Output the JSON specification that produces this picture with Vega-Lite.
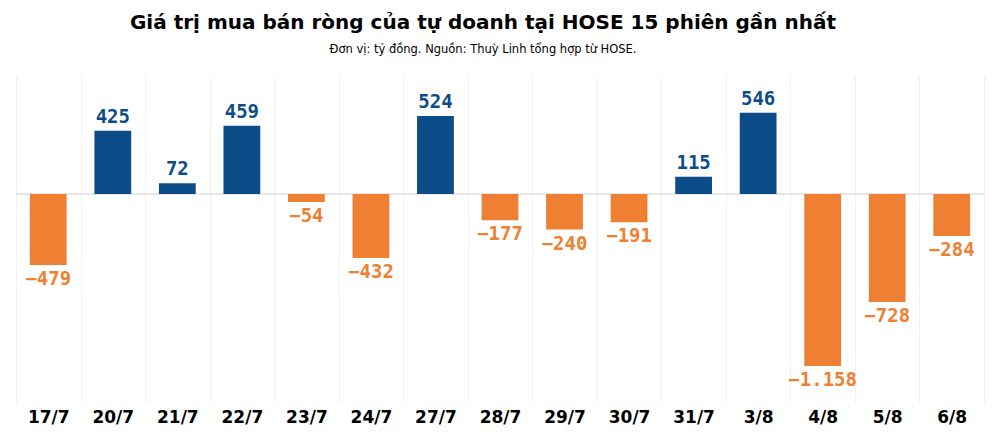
{
  "$schema": "https://vega.github.io/schema/vega-lite/v6.json",
  "autosize": {"type": "none"},
  "width": 968,
  "height": 327,
  "padding": {"left": 16, "top": 75, "right": 16, "bottom": 42},
  "background": "white",
  "title": {
    "text": "Giá trị mua bán ròng của tự doanh tại HOSE 15 phiên gần nhất",
    "subtitle": "Đơn vị: tỷ đồng. Nguồn: Thuỳ Linh tổng hợp từ HOSE.",
    "anchor": "middle",
    "dx": -17,
    "font": "DejaVu Sans",
    "fontSize": 20,
    "fontWeight": "bold",
    "color": "#000000",
    "subtitleFont": "DejaVu Sans",
    "subtitleFontSize": 11.5,
    "subtitleColor": "#000000",
    "subtitlePadding": 11,
    "offset": 20
  },
  "data": {
    "values": [
      {"date": "17/7", "value": -479},
      {"date": "20/7", "value": 425},
      {"date": "21/7", "value": 72},
      {"date": "22/7", "value": 459},
      {"date": "23/7", "value": -54},
      {"date": "24/7", "value": -432},
      {"date": "27/7", "value": 524},
      {"date": "28/7", "value": -177},
      {"date": "29/7", "value": -240},
      {"date": "30/7", "value": -191},
      {"date": "31/7", "value": 115},
      {"date": "3/8", "value": 546},
      {"date": "4/8", "value": -1158},
      {"date": "5/8", "value": -728},
      {"date": "6/8", "value": -284}
    ]
  },
  "encoding": {
    "x": {
      "field": "date",
      "type": "nominal",
      "sort": null,
      "scale": {"paddingInner": 0, "paddingOuter": 0},
      "axis": {
        "title": null,
        "labelAngle": 0,
        "labelFont": "DejaVu Sans",
        "labelFontSize": 17,
        "labelFontWeight": "bold",
        "labelColor": "#000000",
        "labelPadding": 7,
        "domain": false,
        "ticks": false,
        "grid": true,
        "tickBand": "extent",
        "gridColor": "#f0f0f0",
        "gridWidth": 1
      }
    },
    "y": {
      "field": "value",
      "type": "quantitative",
      "scale": {"domain": [-1400, 800], "nice": false, "zero": true},
      "axis": null
    }
  },
  "layer": [
    {
      "mark": {"type": "rule", "color": "#e6e6e6", "strokeWidth": 1},
      "encoding": {"y": {"datum": 0}, "x": null}
    },
    {
      "mark": {"type": "bar", "width": {"band": 0.57}},
      "encoding": {
        "color": {
          "condition": {"test": "datum.value >= 0", "value": "#0c4c88"},
          "value": "#ee7f33"
        }
      }
    },
    {
      "transform": [{"filter": "datum.value >= 0"}],
      "mark": {
        "type": "text",
        "baseline": "alphabetic",
        "dy": -8,
        "font": "DejaVu Sans Mono",
        "fontSize": 19,
        "fontWeight": "bold",
        "color": "#0c4c88"
      },
      "encoding": {"text": {"field": "value", "type": "quantitative", "format": ",d"}}
    },
    {
      "transform": [{"filter": "datum.value < 0"}],
      "mark": {
        "type": "text",
        "baseline": "top",
        "dy": 5,
        "font": "DejaVu Sans Mono",
        "fontSize": 19,
        "fontWeight": "bold",
        "color": "#ee7f33"
      },
      "encoding": {"text": {"field": "value", "type": "quantitative", "format": ",d"}}
    }
  ],
  "config": {
    "view": {"stroke": null},
    "locale": {
      "number": {
        "decimal": ",",
        "thousands": ".",
        "grouping": [3],
        "currency": ["", " đ"]
      }
    }
  }
}
